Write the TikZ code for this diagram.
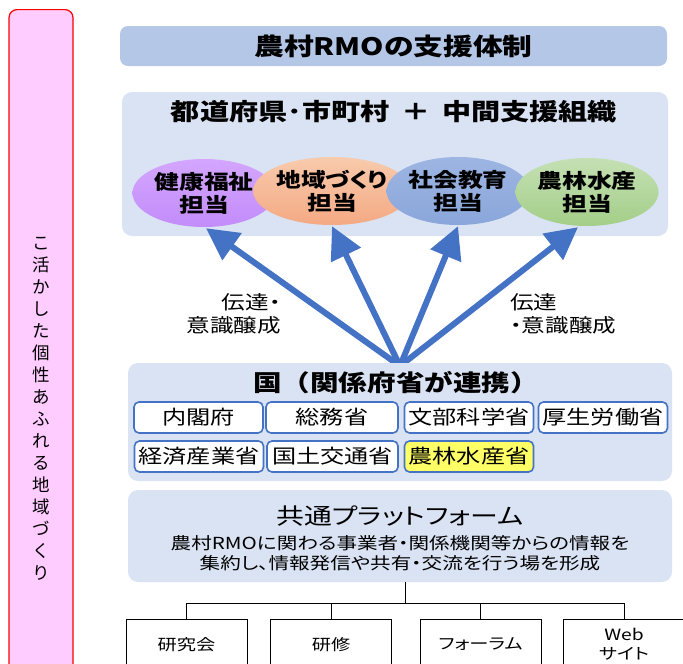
\documentclass[tikz,border=0pt]{standalone}
\usepackage{fontspec}
\setmainfont{Noto Sans CJK JP}[FakeStretch=1.24,RawFeature=+palt]
\newfontfamily\jpn{Noto Sans CJK JP}[FakeStretch=1.24]
\newfontfamily\jpv{Noto Sans CJK JP}
\usetikzlibrary{arrows.meta,shapes.geometric}
\definecolor{barpink}{HTML}{FFCCFF}
\definecolor{titleblue}{HTML}{B4C7E7}
\definecolor{panelblue}{HTML}{DAE3F3}
\definecolor{arrowblue}{HTML}{4472C4}
\definecolor{purpleA}{HTML}{D4A6FF}
\definecolor{purpleB}{HTML}{C28CFA}
\definecolor{orangeA}{HTML}{F8CBAD}
\definecolor{orangeB}{HTML}{F4A983}
\definecolor{blueA}{HTML}{9DB5E2}
\definecolor{blueB}{HTML}{8AA6DA}
\definecolor{greenA}{HTML}{C5E0B4}
\definecolor{greenB}{HTML}{A3CE88}
\definecolor{yellowbox}{HTML}{FFFF66}
\tikzset{
  panel/.style={fill=panelblue, rounded corners=10, draw=none, inner sep=0},
  mbox/.style={draw=arrowblue, line width=1.6, fill=white, rounded corners=5,
    minimum width=129, minimum height=31, inner sep=0,
    font=\fontsize{19.5}{20}\selectfont},
  ell/.style={ellipse, minimum width=143, minimum height=68, align=center,
    inner sep=0, font=\bfseries\fontsize{20}{23}\selectfont},
  leaf/.style={draw=black, line width=0.8, fill=white, minimum width=121,
    minimum height=50, anchor=north, align=center, inner sep=0,
    font=\fontsize{15.5}{20}\selectfont},
  conn/.style={draw=arrowblue, line width=6, -{Triangle[length=32pt,width=32pt]}},
  tree/.style={draw=black, line width=0.8},
  lbl/.style={font=\fontsize{19}{23}\selectfont, inner sep=0}
}
\begin{document}
\begin{tikzpicture}[x=1pt,y=-1pt]
\useasboundingbox (0,0) rectangle (683,664);
\clip (0,0) rectangle (683,664);
% left bar
\node[draw=red, fill=barpink, rounded corners=8, line width=1.2,
  minimum width=64, minimum height=680, anchor=north, inner sep=0] (bar) at (41,9) {};
\node[align=center, inner sep=0, font=\jpv\fontsize{17.5}{22}\selectfont] (bartext) at (41,409)
  {こ\\活\\か\\し\\た\\個\\性\\あ\\ふ\\れ\\る\\地\\域\\づ\\く\\り};
% title bar
\node[panel, fill=titleblue, rounded corners=8, minimum width=547, minimum height=40] (title) at (393.5,46) {};
\node[font=\bfseries\fontsize{24}{26}\selectfont, inner sep=0] (titletext) at (393.5,46) {農村RMOの支援体制};
% prefecture panel
\node[panel, minimum width=546, minimum height=144] (pref) at (395,164) {};
\node[font=\bfseries\fontsize{23.5}{26}\selectfont, inner sep=0] (preftext) at (394,112)
  {都道府県･市町村\hspace{0.5em}＋\hspace{0.5em}中間支援組織};
\node[ell, top color=purpleA, bottom color=purpleB] (e1) at (204,193) {健康福祉\\担当};
\node[ell, top color=orangeA, bottom color=orangeB] (e2) at (332,191) {地域づくり\\担当};
\node[ell, top color=blueA, bottom color=blueB] (e3) at (458,191) {社会教育\\担当};
\node[ell, top color=greenA, bottom color=greenB] (e4) at (587,192) {農林水産\\担当};
% arrows
\coordinate (o) at (400,366);
\draw[conn] (o) -- ([xshift=2pt,yshift=-1pt]e1.south);
\draw[conn] (o) -- ([yshift=-1pt]e2.south);
\draw[conn] (o) -- ([yshift=-1pt]e3.south);
\draw[conn] (o) -- ([xshift=-9pt,yshift=-1pt]e4.south);
\node[lbl, align=right, anchor=east] (lblL) at (281,314) {伝達・\\意識醸成};
\node[lbl, align=left, anchor=west] (lblR) at (510,314) {伝達\\・意識醸成};
% national panel
\node[panel, minimum width=544, minimum height=118] (nat) at (400,422) {};
\node[font=\jpn\bfseries\fontsize{23}{26}\selectfont, inner sep=0] (nattext) at (396,383)
  {国（関係府省が連携）};
\node[mbox] (m1) at (198.5,417.5) {内閣府};
\node[mbox, minimum width=132] (m2) at (332,417.5) {総務省};
\node[mbox] (m3) at (469,417.5) {文部科学省};
\node[mbox] (m4) at (603,417.5) {厚生労働省};
\node[mbox] (m5) at (199,456.5) {経済産業省};
\node[mbox, minimum width=131] (m6) at (332.5,456.5) {国土交通省};
\node[mbox, fill=yellowbox] (m7) at (469,456.5) {農林水産省};
% platform panel
\node[panel, minimum width=544, minimum height=92] (plat) at (400,536) {};
\node[font=\fontsize{22.5}{26}\selectfont, inner sep=0] (plattitle) at (400,516) {共通プラットフォーム};
\node[align=center, inner sep=0, font=\fontsize{16.6}{20.5}\selectfont] (platsub) at (400,553)
  {農村RMOに関わる事業者・関係機関等からの情報を\\集約し、情報発信や共有・交流を行う場を形成};
% leaves
\node[leaf] (b1) at (186.5,619) {研究会};
\node[leaf] (b2) at (331,619) {研修};
\node[leaf] (b3) at (480.5,619) {フォーラム};
\node[leaf, font=\fontsize{15.5}{19}\selectfont] (b4) at (624,619) {Web\\サイト};
\draw[tree] ([xshift=5pt]plat.south) -- ++(0,21) coordinate (j);
\draw[tree] (j) -| (b1.north);
\draw[tree] (j) -| (b2.north);
\draw[tree] (j) -| (b3.north);
\draw[tree] (j) -| (b4.north);
\end{tikzpicture}
\end{document}
